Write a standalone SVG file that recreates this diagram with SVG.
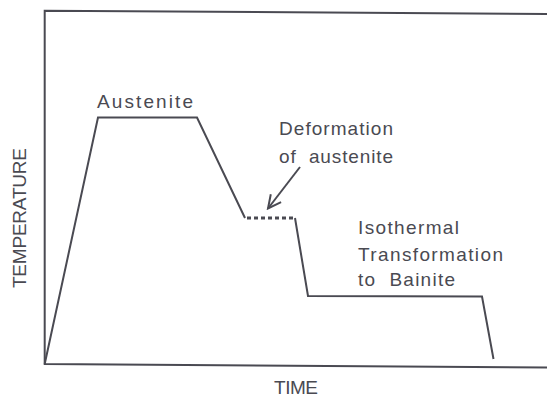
<svg xmlns="http://www.w3.org/2000/svg" width="547" height="398" viewBox="0 0 547 398">
  <style>
    .ln { fill: none; stroke: #4a4a52; stroke-width: 2; stroke-linejoin: miter; }
    .dot { fill: none; stroke: #4a4a52; stroke-width: 3.2; stroke-dasharray: 4 3; }
    .t { font-family: "Liberation Sans", Arial, sans-serif; font-size: 19px; fill: #4a4a52; }
  </style>
  <defs>
    <marker id="vhead" viewBox="0 0 16 16" refX="14" refY="8" markerWidth="16" markerHeight="16" markerUnits="userSpaceOnUse" orient="auto">
      <path d="M1,1.5 L14,8 L1,14.5" fill="none" stroke="#4a4a52" stroke-width="2"/>
    </marker>
  </defs>
  <rect width="547" height="398" fill="#ffffff"/>
  <g id="axes">
    <path class="ln" d="M547,14 L44.7,10.7 L44.7,364 L547,367.5"/>
  </g>
  <g id="curve">
    <path class="ln" d="M44.7,364 L98,117.5 L197,117.5 L245,218"/>
    <path class="dot" d="M247,218 L293,218"/>
    <path class="ln" d="M295,218 L308,296 L482,296.5 L493.5,359"/>
  </g>
  <g id="connectors">
    <path class="ln" d="M300,167 L268,208.5" marker-end="url(#vhead)"/>
  </g>
  <g id="labels">
    <text class="t" x="97" y="107.7" textLength="96" lengthAdjust="spacing">Austenite</text>
    <text class="t" x="279" y="135" textLength="114" lengthAdjust="spacing">Deformation</text>
    <text class="t" x="279" y="163" textLength="114" lengthAdjust="spacing" xml:space="preserve">of  austenite</text>
    <text class="t" x="358" y="234.3" textLength="101" lengthAdjust="spacing">Isothermal</text>
    <text class="t" x="358" y="261" textLength="145" lengthAdjust="spacing">Transformation</text>
    <text class="t" x="358" y="286" textLength="97" lengthAdjust="spacing" xml:space="preserve">to  Bainite</text>
    <text class="t" x="274" y="394" textLength="44" lengthAdjust="spacing">TIME</text>
    <text class="t" transform="translate(26,288) rotate(-90)" x="0" y="0" textLength="140" lengthAdjust="spacing">TEMPERATURE</text>
  </g>
</svg>
